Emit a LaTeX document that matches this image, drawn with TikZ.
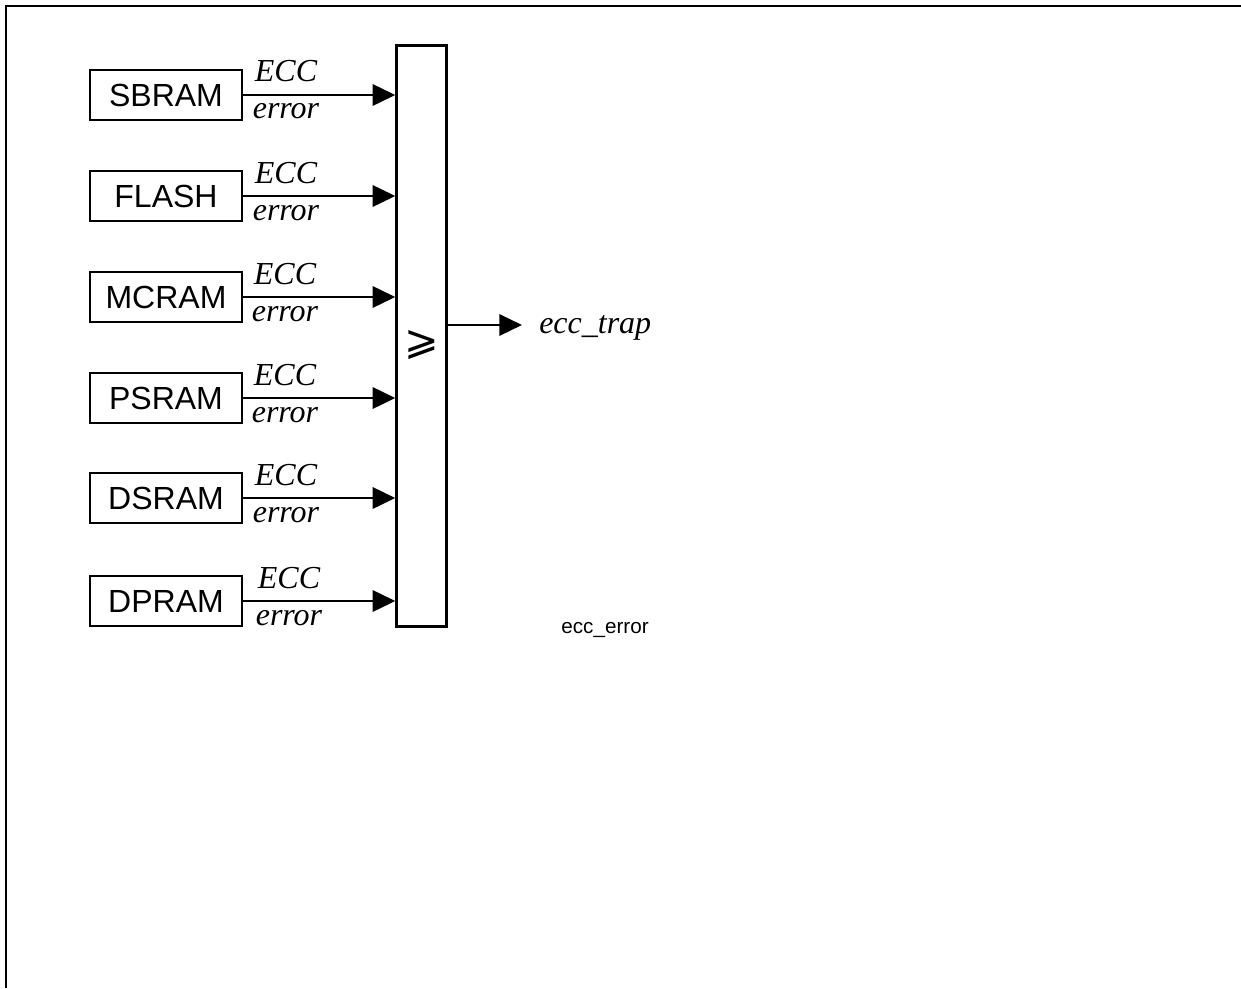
\documentclass[tikz,border=0pt]{standalone}
\usepackage{fontspec}
\setmainfont{Liberation Serif}
\newfontfamily\arialf{Liberation Sans}
\newfontfamily\dejavuf{DejaVu Sans}
\usetikzlibrary{arrows.meta}
\begin{document}
\begin{tikzpicture}[x=0.75pt,y=-0.75pt,
  mem/.style={draw,line width=1.8pt,minimum width=114pt,minimum height=37.5pt,inner sep=0pt,
    font=\arialf\fontsize{24}{28}\selectfont},
  lbl/.style={anchor=base,inner sep=0pt,font=\itshape\fontsize{24}{28}\selectfont},
  sig/.style={line width=1.8pt,-{Triangle[length=17pt,width=16pt]}},
  frameline/.style={line width=1.8pt}]
\useasboundingbox (0,0) rectangle (1241,988);
\draw[frameline] (6,988) -- (6,6) -- (1241,6);
% OR block
\node[draw,line width=1.8pt,minimum width=37.5pt,minimum height=435.5pt,inner sep=0pt] (orb) at (421.5,336) {};
\node[inner sep=0pt,font=\dejavuf\fontsize{31}{34}\selectfont] (ge) at (421.5,345.5) {⩾};
% memories
\foreach \nm/\txt/\yy/\lx in {sb/SBRAM/95/286, fl/FLASH/196/286, mc/MCRAM/297/285, ps/PSRAM/398/285, ds/DSRAM/498/286, dp/DPRAM/601/289}{
  \node[mem] (\nm) at (166,\yy) {\txt};
  \draw[sig] (\nm.east) -- (\nm.east -| orb.west);
  \node[lbl] (\nm-ecc) at (\lx,\yy-13) {ECC};
  \node[lbl] (\nm-err) at (\lx,\yy+24) {error};
}
% output
\coordinate (trapTip) at (522,325);
\draw[sig] (orb.east |- trapTip) -- (trapTip);
\node[anchor=base west,inner sep=0pt,font=\itshape\fontsize{24}{28}\selectfont] (trap) at (539,333) {ecc\_trap};
\node[anchor=base,inner sep=0pt,font=\arialf\fontsize{15.5}{18}\selectfont] (eccerr) at (605,633) {ecc\_error};
\end{tikzpicture}
\end{document}
